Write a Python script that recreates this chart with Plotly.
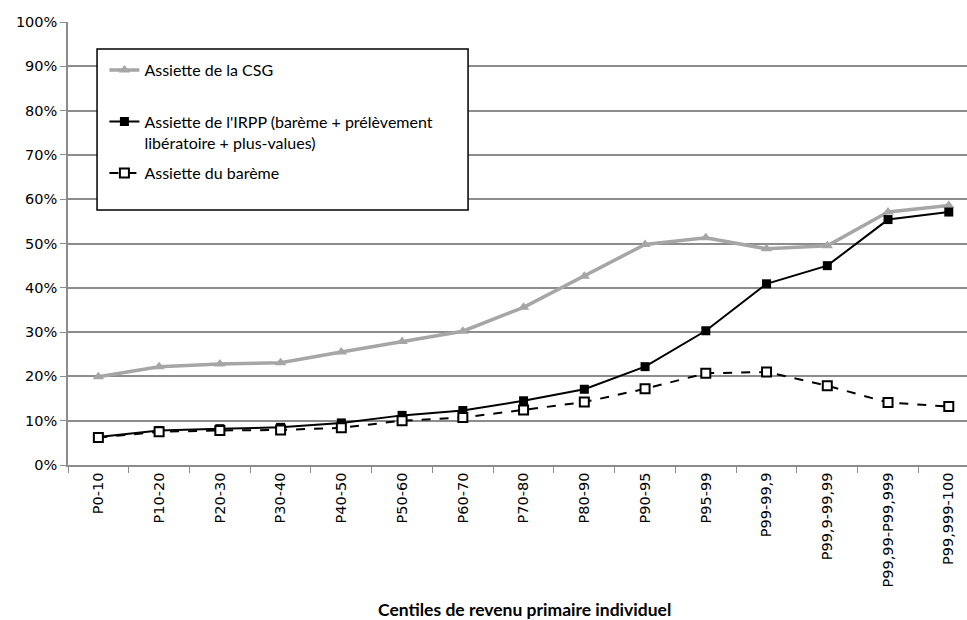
import plotly.graph_objects as go

categories = ["P0-10", "P10-20", "P20-30", "P30-40", "P40-50", "P50-60", "P60-70",
              "P70-80", "P80-90", "P90-95", "P95-99", "P99-99,9", "P99,9-99,99",
              "P99,99-P99,999", "P99,999-100"]
csg = [0.199, 0.222, 0.228, 0.231, 0.255, 0.279, 0.302, 0.356, 0.426, 0.498, 0.513,
       0.488, 0.495, 0.571, 0.586]
irpp = [0.063, 0.078, 0.082, 0.085, 0.095, 0.112, 0.123, 0.145, 0.171, 0.222, 0.303,
        0.409, 0.450, 0.554, 0.571]
bareme = [0.062, 0.075, 0.078, 0.079, 0.084, 0.100, 0.107, 0.124, 0.142, 0.172, 0.207,
          0.210, 0.179, 0.141, 0.132]
y_ticks = [0, 0.1, 0.2, 0.3, 0.4, 0.5, 0.6, 0.7, 0.8, 0.9, 1.0]

FONT = "Lato, 'Open Sans', sans-serif"
TICKFONT = "DejaVu Sans, Verdana, sans-serif"

fig = go.Figure()
fig.add_trace(go.Scatter(
    x=categories, y=csg, name="Assiette de la CSG<br> ", mode="lines+markers",
    line=dict(color="#a6a6a6", width=3.5),
    marker=dict(symbol="triangle-up", size=10, color="#a6a6a6"),
    legendgroup="a"))
fig.add_trace(go.Scatter(
    x=categories, y=irpp,
    name="Assiette de l'IRPP (barème + prélèvement<br>libératoire + plus-values)",
    mode="lines+markers", line=dict(color="black", width=2),
    marker=dict(symbol="square", size=9, color="black"),
    legendgroup="b"))
fig.add_trace(go.Scatter(
    x=categories, y=bareme, name="Assiette du barème", mode="lines+markers",
    line=dict(color="black", width=2, dash="dash"),
    marker=dict(symbol="square", size=9, color="white", line=dict(color="black", width=2)),
    legendgroup="c"))

fig.add_shape(type="rect", xref="paper", yref="paper",
              x0=0.0323, x1=0.445, y0=0.5756, y1=0.939,
              line=dict(color="black", width=1.5), fillcolor="white", layer="above")

fig.add_annotation(text="<b>Centiles de revenu primaire individuel</b>",
                   xref="paper", yref="paper", x=0.508, y=-0.327,
                   showarrow=False, yanchor="middle",
                   font=dict(family=FONT, size=17.5, color="black"))

fig.update_layout(
    width=967, height=620,
    margin=dict(l=68, r=0, t=22, b=155),
    paper_bgcolor="white", plot_bgcolor="white",
    font=dict(family=FONT, size=14, color="black"),
    legend=dict(x=0.0405, y=0.93, xanchor="left", yanchor="top",
                bgcolor="rgba(0,0,0,0)", borderwidth=0,
                font=dict(family=FONT, size=16, color="black"),
                tracegroupgap=7, valign="top", traceorder="grouped"),
    showlegend=True,
)
fig.update_xaxes(
    type="category", range=[-0.5, 14.3], tickangle=-90,
    showline=True, linecolor="#8c8c8c", linewidth=1.5,
    ticks="outside", tickson="boundaries", ticklen=6, tickcolor="#8c8c8c",
    showgrid=False, tickfont=dict(family=TICKFONT, size=14.5, color="black"),
    automargin=False,
)
fig.update_yaxes(
    range=[0, 1], tickvals=y_ticks, tickformat=".0%",
    showline=True, linecolor="#8c8c8c", linewidth=1.5,
    ticks="outside", ticklen=6, tickcolor="#8c8c8c",
    showgrid=True, gridcolor="#8c8c8c", gridwidth=1.5, zeroline=False,
    tickfont=dict(family=TICKFONT, size=14.5, color="black"),
    automargin=False,
)

fig.write_html("out.html", config={"displayModeBar": False},
               post_script="document.body.style.margin='0px';document.body.style.overflow='hidden';")
